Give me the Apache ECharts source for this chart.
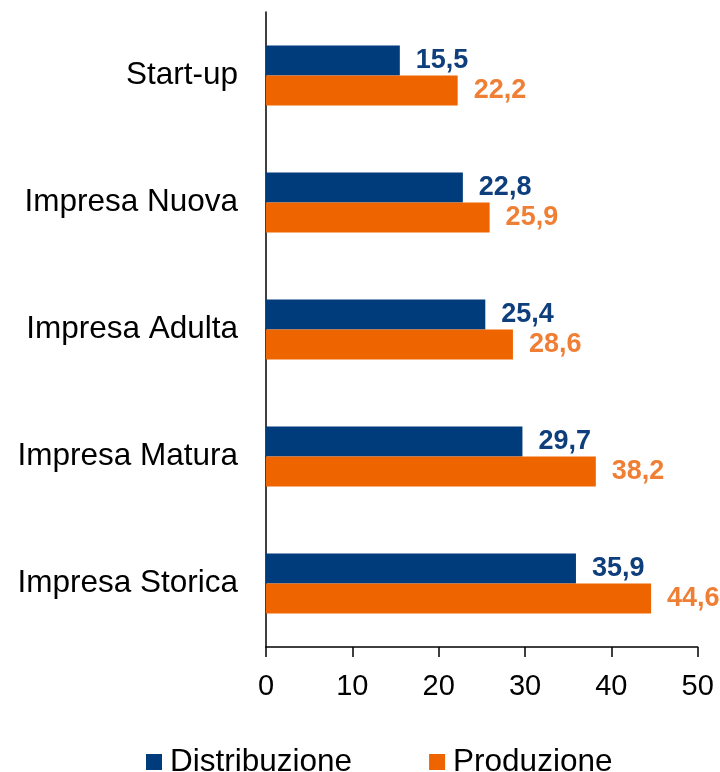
<!DOCTYPE html>
<html>
<head>
<meta charset="utf-8">
<script src="https://cdn.jsdelivr.net/npm/echarts@6/dist/echarts.min.js"></script>
<style>
html,body{margin:0;padding:0;background:#fff;}
#chart{width:720px;height:772px;}
</style>
</head>
<body>
<div id="chart"></div>
<script>
const categories = ["Start-up", "Impresa Nuova", "Impresa Adulta", "Impresa Matura", "Impresa Storica"];
const distribuzione = [15.5, 22.8, 25.4, 29.7, 35.9];
const produzione = [22.2, 25.9, 28.6, 38.2, 44.6];
const seriesNames = ["Distribuzione", "Produzione"];
const xTicks = { min: 0, max: 50, interval: 10 };

const FONT = "'Liberation Sans', Arial, sans-serif";
const chart = echarts.init(document.getElementById('chart'), null, { renderer: 'canvas' });

function fmt(v) { return v.toFixed(1).replace('.', ','); }

chart.setOption({
  backgroundColor: '#ffffff',
  animation: false,
  textStyle: { fontFamily: FONT },
  grid: { left: 266, right: 22.3, top: 12, bottom: 125, containLabel: false },
  legend: {
    data: seriesNames,
    left: 146,
    top: 746,
    padding: 0,
    icon: 'rect',
    itemWidth: 16,
    itemHeight: 16,
    itemGap: 77,
    textStyle: { fontFamily: FONT, fontSize: 31.5, color: '#000', padding: [0, 0, 0, 3] }
  },
  xAxis: {
    type: 'value',
    min: xTicks.min,
    max: xTicks.max,
    interval: xTicks.interval,
    axisLine: { show: true, lineStyle: { color: '#000', width: 1.5 } },
    axisTick: { show: true, length: 10, lineStyle: { color: '#000', width: 1.5 } },
    splitLine: { show: false },
    axisLabel: { fontFamily: FONT, fontSize: 29, color: '#000', margin: 25 }
  },
  yAxis: {
    type: 'category',
    data: categories,
    inverse: true,
    axisLine: { show: true, lineStyle: { color: '#000', width: 1.5 } },
    axisTick: { show: false },
    axisLabel: { fontFamily: FONT, fontSize: 31.5, color: '#000', margin: 28 }
  },
  series: [
    {
      name: seriesNames[0],
      type: 'bar',
      data: distribuzione,
      barWidth: 30,
      barGap: '0%',
      itemStyle: { color: '#003B7B' },
      label: {
        show: true, position: 'right', distance: 16,
        fontFamily: FONT, fontSize: 27, fontWeight: 'bold', color: '#0E3E7C',
        formatter: p => fmt(p.value)
      }
    },
    {
      name: seriesNames[1],
      type: 'bar',
      data: produzione,
      barWidth: 30,
      barGap: '0%',
      itemStyle: { color: '#EE6500' },
      label: {
        show: true, position: 'right', distance: 16,
        fontFamily: FONT, fontSize: 27, fontWeight: 'bold', color: '#F07F36',
        formatter: p => fmt(p.value)
      }
    }
  ]
});
</script>
</body>
</html>
